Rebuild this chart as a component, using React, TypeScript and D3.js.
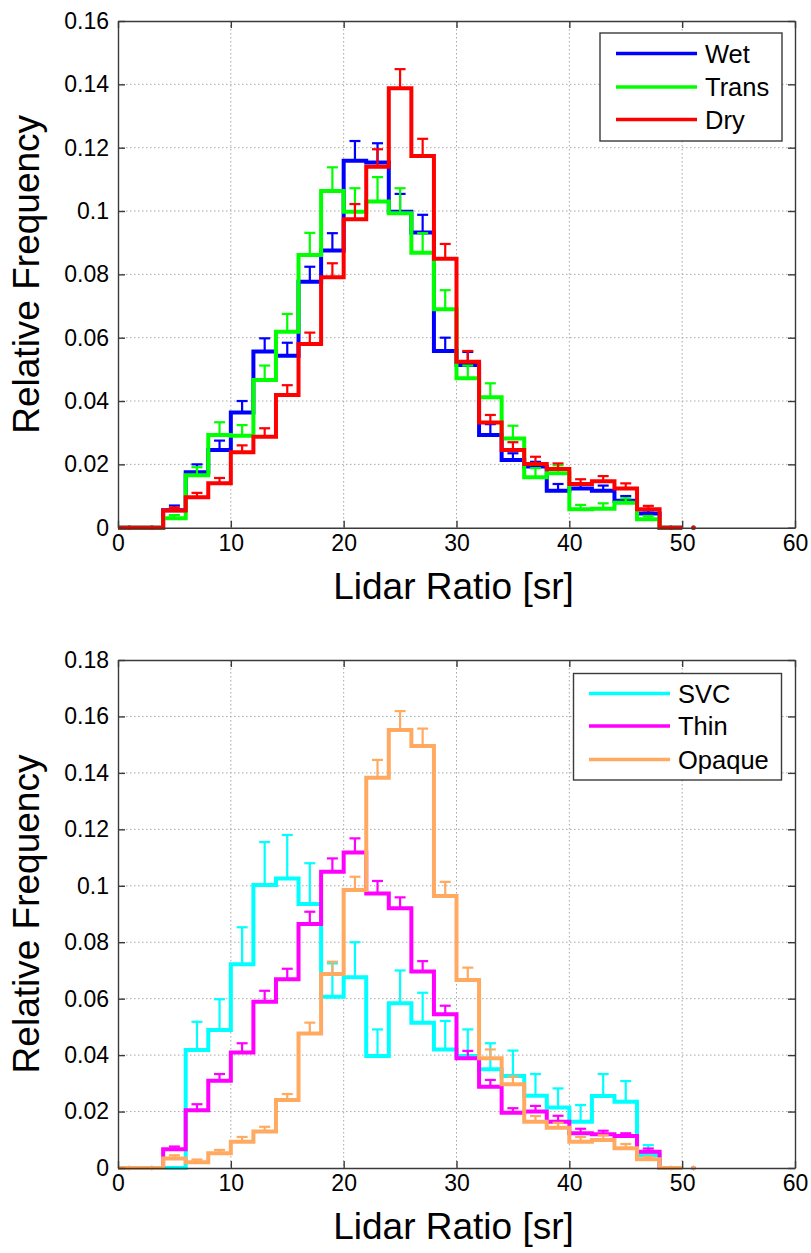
import React, { useEffect, useRef } from 'react';
import * as d3 from 'd3';

// bin centres (bins are 2 sr wide, edges 0..50)
const binCenters = [1, 3, 5, 7, 9, 11, 13, 15, 17, 19, 21, 23, 25, 27, 29, 31, 33, 35, 37, 39, 41, 43, 45, 47, 49, 51];

// top panel
const wetFreq = [0, 0, 0.0055, 0.0175, 0.0245, 0.0364, 0.0556, 0.0543, 0.0777, 0.0875, 0.1159, 0.1153, 0.0998, 0.0932, 0.0558, 0.0514, 0.0293, 0.0214, 0.0193, 0.0117, 0.0124, 0.0117, 0.0085, 0.0045, 0, 0];
const wetErr = [0, 0, 0.0015, 0.0025, 0.003, 0.0036, 0.0042, 0.0041, 0.0047, 0.0055, 0.0062, 0.0061, 0.0056, 0.0056, 0.0042, 0.0041, 0.0034, 0.0021, 0.0015, 0.0021, 0.0016, 0.0016, 0.0015, 0.001, 0, 0];
const transFreq = [0, 0, 0.003, 0.0166, 0.0293, 0.029, 0.0466, 0.0619, 0.0861, 0.1063, 0.0998, 0.103, 0.0993, 0.0868, 0.069, 0.0472, 0.0412, 0.0282, 0.0159, 0.0172, 0.0058, 0.006, 0.0079, 0.0027, 0, 0];
const transErr = [0, 0, 0.001, 0.0025, 0.004, 0.0034, 0.0046, 0.0056, 0.007, 0.0075, 0.0074, 0.0077, 0.0079, 0.0062, 0.006, 0.004, 0.0044, 0.004, 0.0029, 0.0025, 0.0014, 0.0017, 0.0014, 0.001, 0, 0];
const dryFreq = [0, 0, 0.0054, 0.0096, 0.014, 0.0238, 0.0287, 0.0419, 0.058, 0.0791, 0.0974, 0.114, 0.1388, 0.1174, 0.0849, 0.0524, 0.0332, 0.0245, 0.0201, 0.0185, 0.0138, 0.0147, 0.0124, 0.0058, 0, 0];
const dryErr = [0, 0, 0.001, 0.0014, 0.0017, 0.0022, 0.0027, 0.0031, 0.0036, 0.0044, 0.0048, 0.0055, 0.006, 0.0054, 0.0047, 0.0034, 0.0024, 0.0025, 0.0023, 0.0018, 0.0015, 0.0016, 0.0016, 0.0011, 0, 0];

// bottom panel
const svcFreq = [0, 0, 0, 0.0418, 0.0489, 0.0722, 0.1003, 0.1026, 0.0935, 0.0607, 0.0676, 0.0397, 0.0584, 0.0515, 0.042, 0.0397, 0.035, 0.0326, 0.0256, 0.0214, 0.0164, 0.0255, 0.0235, 0.0046, 0, 0];
const svcErr = [0, 0, 0, 0.01, 0.0109, 0.0131, 0.0152, 0.0154, 0.0145, 0.0118, 0.0124, 0.0094, 0.0116, 0.0106, 0.0101, 0.0094, 0.0092, 0.009, 0.0077, 0.0068, 0.0059, 0.0078, 0.0073, 0.0035, 0, 0];
const thinFreq = [0, 0, 0.0066, 0.0205, 0.0309, 0.0409, 0.0589, 0.0669, 0.0865, 0.105, 0.1118, 0.0973, 0.092, 0.0696, 0.0545, 0.0389, 0.0288, 0.0196, 0.02, 0.0164, 0.0123, 0.012, 0.0113, 0.0058, 0, 0];
const thinErr = [0, 0, 0.001, 0.0021, 0.0024, 0.0033, 0.0039, 0.0037, 0.0043, 0.0047, 0.005, 0.0044, 0.0039, 0.0037, 0.003, 0.0026, 0.0024, 0.0016, 0.002, 0.0021, 0.0016, 0.0012, 0.001, 0.0011, 0, 0];
const opaqueFreq = [0, 0, 0.0034, 0.002, 0.0052, 0.0093, 0.0129, 0.0241, 0.0477, 0.0687, 0.0985, 0.1383, 0.1552, 0.1495, 0.0964, 0.0666, 0.0389, 0.0297, 0.0164, 0.0143, 0.0093, 0.0099, 0.007, 0.0031, 0, 0];
const opaqueErr = [0, 0, 0.0011, 0.001, 0.0012, 0.0017, 0.0017, 0.0021, 0.0038, 0.0044, 0.0047, 0.0063, 0.0067, 0.0062, 0.005, 0.0044, 0.0031, 0.0027, 0.002, 0.0017, 0.0017, 0.0017, 0.0015, 0.0009, 0, 0];

const xTicks = [0, 10, 20, 30, 40, 50, 60];
const topYTicks = [0, 0.02, 0.04, 0.06, 0.08, 0.1, 0.12, 0.14, 0.16];
const bottomYTicks = [0, 0.02, 0.04, 0.06, 0.08, 0.1, 0.12, 0.14, 0.16, 0.18];

const FONT = "'Liberation Sans', Arial, Helvetica, sans-serif";
const AXIS_COLOR = '#3a3a3a';

const drawPanel = (svg, cfg) => {
  const left = 118;
  const right = 795;
  const { top, bottom, yTicks, series, legend } = cfg;

  const x = d3.scaleLinear().domain([0, 60]).range([left, right]);
  const y = d3.scaleLinear().domain([0, yTicks[yTicks.length - 1]]).range([bottom, top]);

  const g = svg.append('g');

  // dotted grid
  g.selectAll('line.gx')
    .data(xTicks.slice(1, -1))
    .join('line')
    .attr('x1', (d) => x(d))
    .attr('x2', (d) => x(d))
    .attr('y1', top)
    .attr('y2', bottom)
    .attr('stroke', '#a8a8a8')
    .attr('stroke-dasharray', '1.5,2.5');
  g.selectAll('line.gy')
    .data(yTicks.slice(1, -1))
    .join('line')
    .attr('x1', left)
    .attr('x2', right)
    .attr('y1', (d) => y(d))
    .attr('y2', (d) => y(d))
    .attr('stroke', '#a8a8a8')
    .attr('stroke-dasharray', '1.5,2.5');

  const stairs = d3
    .line()
    .x((d) => x(d[0]))
    .y((d) => y(d[1]))
    .curve(d3.curveStepAfter);

  series.forEach((s) => {
    const pts = binCenters.map((c, i) => [c - 1, s.freq[i]]);
    g.append('path')
      .attr('d', stairs(pts))
      .attr('fill', 'none')
      .attr('stroke', s.color)
      .attr('stroke-width', 4)
      .attr('stroke-linejoin', 'miter');

    const bars = binCenters.map((c, i) => ({ c, v: s.freq[i], e: s.err[i] }));
    const eb = g.append('g').attr('stroke', s.color).attr('stroke-width', 2.2);
    bars
      .filter((d) => d.e > 0)
      .forEach((d) => {
        const cx = x(d.c);
        eb.append('line').attr('x1', cx).attr('x2', cx).attr('y1', y(d.v)).attr('y2', y(d.v + d.e));
        eb.append('line').attr('x1', cx - 5.5).attr('x2', cx + 5.5).attr('y1', y(d.v + d.e)).attr('y2', y(d.v + d.e));
        eb.append('line').attr('x1', cx - 5.5).attr('x2', cx + 5.5).attr('y1', y(d.v)).attr('y2', y(d.v));
      });
    g.selectAll(null)
      .data(bars.filter((d) => d.e === 0 && d.v === 0))
      .join('circle')
      .attr('cx', (d) => x(d.c))
      .attr('cy', (d) => y(d.v))
      .attr('r', 2.2)
      .attr('fill', s.color);
  });

  // axes box with inward ticks
  const fmt = (d) => String(+d.toFixed(2));
  const styleAxis = (a) => {
    a.select('.domain').attr('stroke', AXIS_COLOR).attr('stroke-width', 1.4);
    a.selectAll('.tick line').attr('stroke', AXIS_COLOR).attr('stroke-width', 1.4);
    a.selectAll('.tick text').attr('fill', '#000').style('font-family', FONT).style('font-size', '23px');
  };

  g.append('g')
    .attr('transform', `translate(0,${bottom})`)
    .call(d3.axisBottom(x).tickValues(xTicks).tickSizeInner(-7).tickSizeOuter(0).tickPadding(7).tickFormat(fmt))
    .call(styleAxis);
  g.append('g')
    .attr('transform', `translate(0,${top})`)
    .call(d3.axisTop(x).tickValues(xTicks).tickSizeInner(-7).tickSizeOuter(0).tickFormat(() => ''))
    .call(styleAxis);
  g.append('g')
    .attr('transform', `translate(${left},0)`)
    .call(d3.axisLeft(y).tickValues(yTicks).tickSizeInner(-7).tickSizeOuter(0).tickPadding(9).tickFormat(fmt))
    .call(styleAxis);
  g.append('g')
    .attr('transform', `translate(${right},0)`)
    .call(d3.axisRight(y).tickValues(yTicks).tickSizeInner(-7).tickSizeOuter(0).tickFormat(() => ''))
    .call(styleAxis);

  // axis titles
  g.append('text')
    .attr('x', (left + right) / 2 - 3)
    .attr('y', bottom + 71)
    .attr('text-anchor', 'middle')
    .style('font-family', FONT)
    .style('font-size', '37px')
    .text('Lidar Ratio [sr]');
  g.append('text')
    .attr('transform', `translate(39,${(top + bottom) / 2}) rotate(-90)`)
    .attr('text-anchor', 'middle')
    .style('font-family', FONT)
    .style('font-size', '37px')
    .text('Relative Frequency');

  // legend
  const lg = g.append('g');
  lg.append('rect')
    .attr('x', legend.x)
    .attr('y', legend.y)
    .attr('width', legend.w)
    .attr('height', legend.h)
    .attr('fill', '#fff')
    .attr('stroke', AXIS_COLOR)
    .attr('stroke-width', 1.4);
  series.forEach((s, i) => {
    const ry = legend.rowY[i];
    lg.append('line')
      .attr('x1', legend.lineX[0])
      .attr('x2', legend.lineX[1])
      .attr('y1', ry)
      .attr('y2', ry)
      .attr('stroke', s.color)
      .attr('stroke-width', 3.4);
    lg.append('text')
      .attr('x', legend.textX)
      .attr('y', ry)
      .attr('dy', '0.36em')
      .style('font-family', FONT)
      .style('font-size', '25.5px')
      .text(s.name);
  });
};

const App = () => {
  const svgRef = useRef(null);

  useEffect(() => {
    const svg = d3.select(svgRef.current);
    svg.selectAll('*').remove();

    drawPanel(svg, {
      top: 21,
      bottom: 527.7,
      yTicks: topYTicks,
      series: [
        { name: 'Wet', color: '#0000ff', freq: wetFreq, err: wetErr },
        { name: 'Trans', color: '#00ff00', freq: transFreq, err: transErr },
        { name: 'Dry', color: '#ff0000', freq: dryFreq, err: dryErr },
      ],
      legend: { x: 600, y: 33, w: 182, h: 108, lineX: [616, 697], rowY: [53.5, 87, 119.5], textX: 705 },
    });

    drawPanel(svg, {
      top: 660,
      bottom: 1168,
      yTicks: bottomYTicks,
      series: [
        { name: 'SVC', color: '#00ffff', freq: svcFreq, err: svcErr },
        { name: 'Thin', color: '#ff00ff', freq: thinFreq, err: thinErr },
        { name: 'Opaque', color: '#ffaa60', freq: opaqueFreq, err: opaqueErr },
      ],
      legend: { x: 573.5, y: 673.5, w: 208, h: 106.5, lineX: [589, 670], rowY: [693.5, 726, 759.5], textX: 678 },
    });
  }, []);

  return (
    <svg
      ref={svgRef}
      width={811}
      height={1253}
      style={{ position: 'absolute', left: 0, top: 0, background: '#fff' }}
    />
  );
};

export default App;
